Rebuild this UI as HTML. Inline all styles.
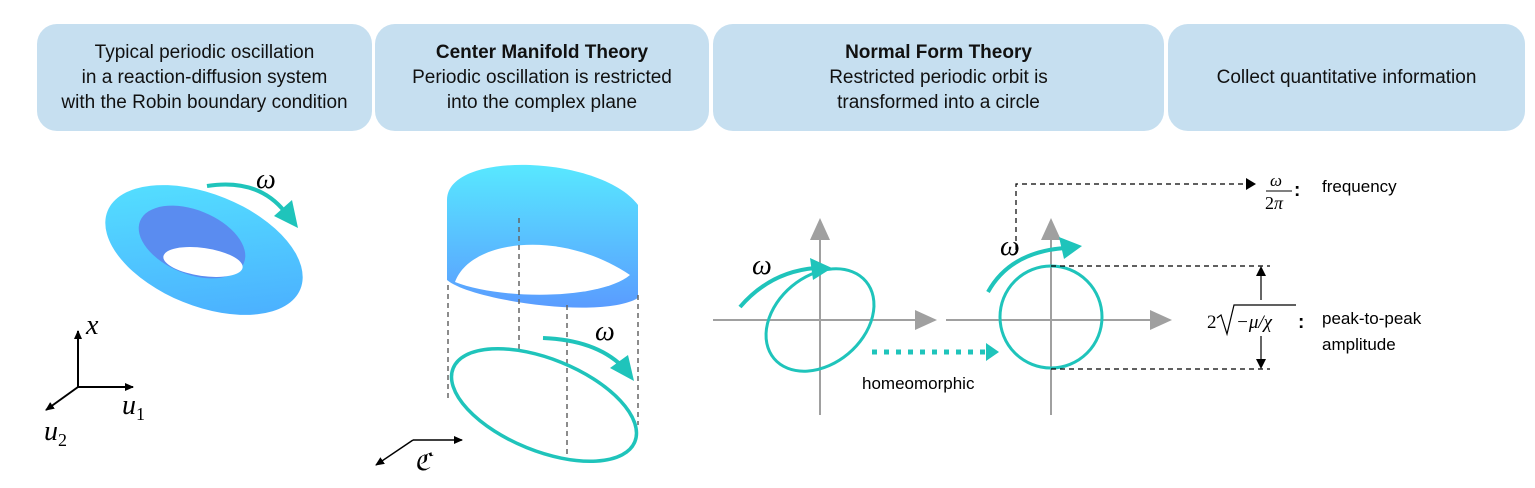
<!DOCTYPE html>
<html><head><meta charset="utf-8"><style>
body{margin:0;width:1535px;height:488px;background:#fff;overflow:hidden;font-family:"Liberation Sans",sans-serif;}
.b{position:absolute;top:24px;height:107px;background:#c6dff0;border-radius:20px;display:flex;align-items:center;justify-content:center;text-align:center;font-size:19px;line-height:25px;color:#111;}
svg{position:absolute;left:0;top:0}
</style></head><body>
<div class="b" style="left:37px;width:335px">Typical periodic oscillation<br>in a reaction-diffusion system<br>with the Robin boundary condition</div>
<div class="b" style="left:375px;width:334px"><div><b>Center Manifold Theory</b><br>Periodic oscillation is restricted<br>into the complex plane</div></div>
<div class="b" style="left:713px;width:451px"><div><b>Normal Form Theory</b><br>Restricted periodic orbit is<br>transformed into a circle</div></div>
<div class="b" style="left:1168px;width:357px">Collect quantitative information</div>
<svg width="1535" height="488" viewBox="0 0 1535 488">
<defs>
<linearGradient id="g" x1="0" y1="0" x2="1" y2="1"><stop offset="0" stop-color="#55e6ff"/><stop offset="1" stop-color="#4aa8ff"/></linearGradient>
<linearGradient id="g2" x1="0" y1="0" x2="0" y2="1"><stop offset="0" stop-color="#58e8ff"/><stop offset="1" stop-color="#5a9cff"/></linearGradient>
<marker id="ab" markerWidth="10" markerHeight="10" refX="8" refY="5" orient="auto" markerUnits="userSpaceOnUse"><path d="M0,1 L9,5 L0,9z" fill="#000"/></marker>
<marker id="ag" markerWidth="24" markerHeight="24" refX="20" refY="12" orient="auto" markerUnits="userSpaceOnUse"><path d="M0,2 L22,12 L0,22z" fill="#a0a0a0"/></marker>
</defs>
<g font-family="Liberation Serif,serif" font-style="italic" font-size="28">
<!-- torus -->
<ellipse cx="204" cy="250" rx="104" ry="56" transform="rotate(22 204 250)" fill="url(#g)"/>
<ellipse cx="192" cy="242" rx="56" ry="32" transform="rotate(22 192 242)" fill="#5a8cf0"/>
<ellipse cx="203" cy="262" rx="40" ry="14" transform="rotate(8 203 262)" fill="#fff"/>
<path d="M207,186 Q258,178 285,212" stroke="#1fc4bb" stroke-width="4" fill="none"/>
<path d="M298,228 L274,216 L292,200z" fill="#1fc4bb"/>
<text x="256" y="188">ω</text>
<!-- axes -->
<g stroke="#000" stroke-width="2" fill="none">
<line x1="78" y1="387" x2="78" y2="331" marker-end="url(#ab)"/>
<line x1="78" y1="387" x2="133" y2="387" marker-end="url(#ab)"/>
<line x1="78" y1="387" x2="46" y2="410" marker-end="url(#ab)"/>
</g>
<text x="86" y="334">x</text>
<text x="122" y="414">u<tspan font-size="18" font-style="normal" dy="6">1</tspan></text>
<text x="44" y="440">u<tspan font-size="18" font-style="normal" dy="6">2</tspan></text>
<!-- cylinder -->
<path d="M447,200 C447,150 600,155 638,205 L638,298 C600,320 470,300 447,280 Z" fill="url(#g2)"/>
<path d="M455,282 C470,240 560,228 630,275 C600,300 500,300 455,282Z" fill="#fff"/>
<g stroke="#666" stroke-width="1.5" stroke-dasharray="5,4">
<line x1="448" y1="285" x2="448" y2="400"/><line x1="519" y1="218" x2="519" y2="352"/>
<line x1="567" y1="305" x2="567" y2="458"/><line x1="638" y1="295" x2="638" y2="425"/>
</g>
<ellipse cx="544" cy="405" rx="98" ry="46" transform="rotate(22 544 405)" fill="none" stroke="#1fc4bb" stroke-width="3.5"/>
<path d="M543,338 Q595,340 622,366" stroke="#1fc4bb" stroke-width="4" fill="none"/>
<path d="M634,381 L610,368 L628,355z" fill="#1fc4bb"/>
<text x="595" y="340">ω</text>
<g stroke="#000" stroke-width="1.5" fill="none">
<line x1="413" y1="440" x2="462" y2="440" marker-end="url(#ab)"/>
<line x1="413" y1="440" x2="376" y2="465" marker-end="url(#ab)"/>
</g>
<text x="414" y="470" font-size="24">ℭ</text>
<!-- plot1 -->
<line x1="820" y1="415" x2="820" y2="220" stroke="#a0a0a0" stroke-width="2" marker-end="url(#ag)"/>
<line x1="713" y1="320" x2="935" y2="320" stroke="#a0a0a0" stroke-width="2" marker-end="url(#ag)"/>
<ellipse cx="820" cy="320" rx="60" ry="44" transform="rotate(-40 820 320)" fill="none" stroke="#1fc4bb" stroke-width="3"/>
<path d="M740,307 Q770,272 815,268" stroke="#1fc4bb" stroke-width="4" fill="none"/>
<path d="M832,268 L810,258 L813,280z" fill="#1fc4bb"/>
<text x="752" y="274">ω</text>
<line x1="872" y1="352" x2="985" y2="352" stroke="#1fc4bb" stroke-width="5" stroke-dasharray="5,7"/>
<path d="M999,352 L986,343 L986,361z" fill="#1fc4bb"/>
<text x="862" y="389" font-family="Liberation Sans,sans-serif" font-style="normal" font-size="17">homeomorphic</text>
<!-- plot2 -->
<line x1="1051" y1="415" x2="1051" y2="220" stroke="#a0a0a0" stroke-width="2" marker-end="url(#ag)"/>
<line x1="946" y1="320" x2="1170" y2="320" stroke="#a0a0a0" stroke-width="2" marker-end="url(#ag)"/>
<ellipse cx="1051" cy="317" rx="51" ry="51" fill="none" stroke="#1fc4bb" stroke-width="3"/>
<path d="M988,292 Q1010,252 1065,248" stroke="#1fc4bb" stroke-width="4" fill="none"/>
<path d="M1082,246 L1059,237 L1064,259z" fill="#1fc4bb"/>
<text x="1000" y="255">ω</text>
<g stroke="#000" stroke-width="1.2" stroke-dasharray="5,4" fill="none">
<path d="M1016,250 L1016,184 L1245,184"/>
<line x1="1051" y1="266" x2="1270" y2="266"/><line x1="1051" y1="369" x2="1270" y2="369"/>
</g>
<path d="M1256,184 L1246,178 L1246,190z" fill="#000"/>
<g stroke="#000" stroke-width="1.2"><line x1="1261" y1="272" x2="1261" y2="300"/><line x1="1261" y1="336" x2="1261" y2="362"/></g>
<path d="M1261,266 L1256,276 L1266,276z M1261,369 L1256,359 L1266,359z" fill="#000"/>
<text x="1270" y="186" font-size="17">ω</text>
<line x1="1266" y1="191" x2="1292" y2="191" stroke="#000" stroke-width="1"/>
<text x="1265" y="209" font-size="18" font-style="normal">2<tspan font-style="italic">π</tspan></text>
<text x="1294" y="196" font-family="Liberation Sans,sans-serif" font-style="normal" font-size="19" font-weight="bold">:</text>
<text x="1322" y="192" font-family="Liberation Sans,sans-serif" font-style="normal" font-size="17">frequency</text>
<text x="1207" y="328" font-size="19" font-style="normal">2</text>
<path d="M1217,318 L1221,315 L1227,334 L1234,305 L1296,305" stroke="#000" stroke-width="1.2" fill="none"/>
<text x="1236" y="328" font-size="19">−μ/χ</text>
<text x="1298" y="328" font-family="Liberation Sans,sans-serif" font-style="normal" font-size="19" font-weight="bold">:</text>
<text x="1322" y="324" font-family="Liberation Sans,sans-serif" font-style="normal" font-size="17">peak-to-peak</text>
<text x="1322" y="350" font-family="Liberation Sans,sans-serif" font-style="normal" font-size="17">amplitude</text>
</g>
</svg>
</body></html>
